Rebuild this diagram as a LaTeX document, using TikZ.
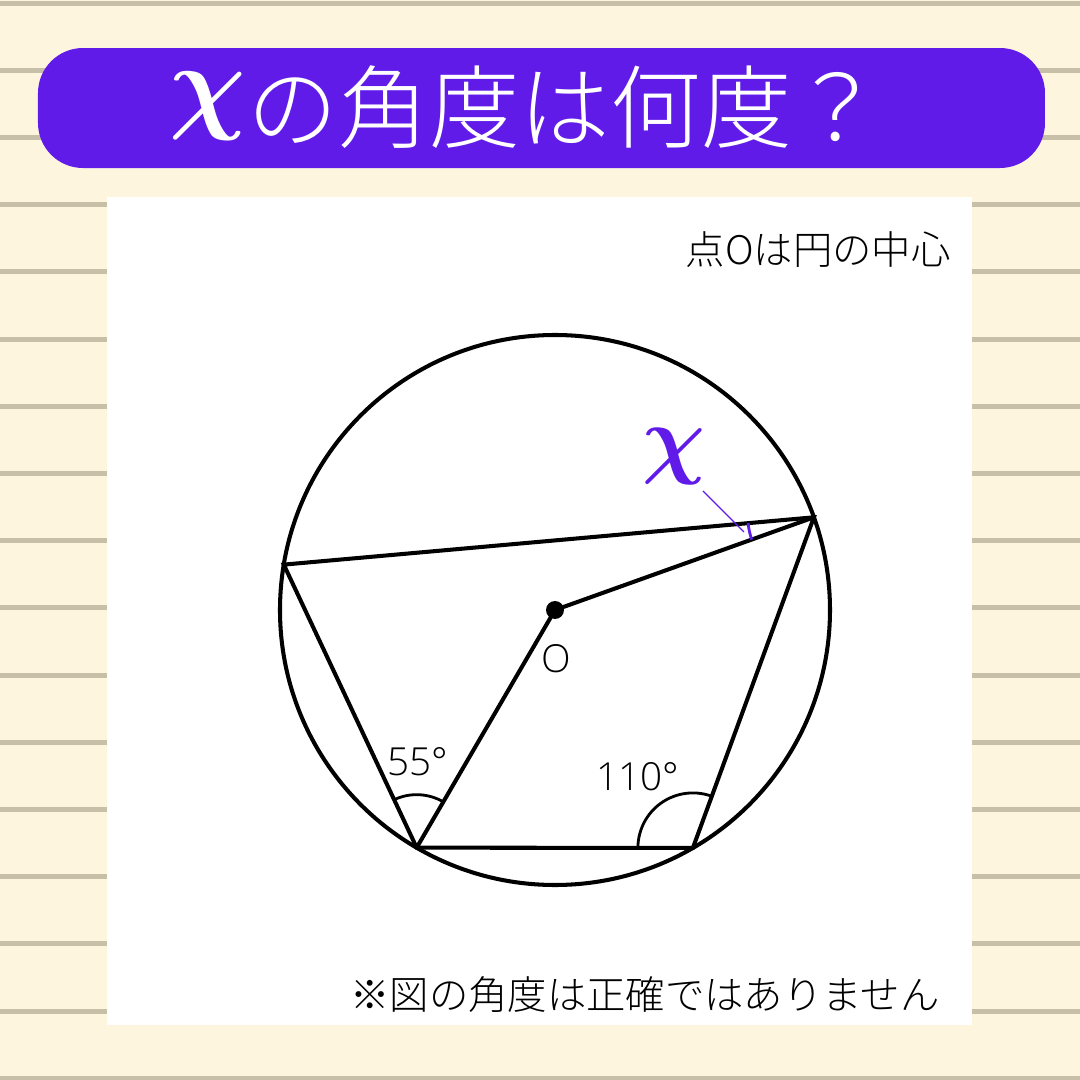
\documentclass[tikz,border=0pt]{standalone}
\usepackage{fontspec}
\setmainfont{Noto Sans CJK JP Light}
\newfontfamily\latinfont{Open Sans Light}
\usepackage{xcolor}
\usetikzlibrary{positioning, calc, angles}
\definecolor{quizpurple}{HTML}{601BE8}
\definecolor{paper}{HTML}{FEF5DF}
\definecolor{ruleline}{HTML}{C8BFA9}

\begin{document}
\begin{tikzpicture}[x=0.1mm, y=0.1mm,
                        figline/.style={line width=1.15pt, black},
                        anglearc/.style={draw, line width=0.8pt, angle radius=5.3mm},
                        smalltext/.style={font=\fontsize{11.2}{13}\selectfont},
                        numlabel/.style={font=\latinfont\fontsize{11}{13}\selectfont},
                        ]
        \useasboundingbox (0,0) rectangle (1080,1080);
        %Background
        \fill[paper] (0,0) rectangle (1080,1080);
        \foreach \k in {0,...,16}
                \fill[ruleline] (0,{1077-67.2*\k-2.5}) rectangle (1080,{1077-67.2*\k+2.5});
        \fill[quizpurple, rounded corners=4.5mm] (38,912) rectangle (1045,1032);
        \fill[white] (107,55) rectangle (972,883);

        %Nodes
        \node[text=white, font=\fontsize{25.8}{27}\selectfont] (title) at (526,973)
                {\raisebox{0.24em}{\scalebox{1.22}{\boldmath$\chi$}}\kern0.02emの角度は何度？};
        \node[smalltext, anchor=east] (center note) at (963,830) {点Oは円の中心};
        \node[smalltext, anchor=east] (foot note) at (952,85) {※図の角度は正確ではありません};

        \coordinate (O) at (555,470);
        \coordinate (A) at ($(O)+(170.5:275)$);
        \coordinate (B) at ($(O)+(19.7:275)$);
        \coordinate (C) at ($(O)+(239.8:275)$);
        \coordinate (D) at ($(O)+(300.1:275)$);

        \node[numlabel] (Olabel) at (556,421) {O};
        \node[numlabel] (angC) at (418,318) {55°};
        \node[numlabel] (angD) at (638,303) {110°};
        \node[text=quizpurple, inner sep=0pt] (xlab) at (674,623) {\scalebox{2.5}{\boldmath$\chi$}};
        \coordinate (xlead) at (703,589);
        \coordinate (xtip) at (744,548);

        %Lines
        \draw[figline] (O) circle (275);
        \draw[figline] (A) -- (B) -- (D) -- (C) -- cycle;
        \draw[figline] (C) -- (O) -- (B);
        \fill (O) circle (9);

        \pic[anglearc] {angle = O--C--A};
        \pic[anglearc, angle radius=5.5mm] {angle = B--D--C};
        \pic[anglearc, draw=quizpurple, angle radius=6.6mm] {angle = A--B--O};
        \draw[quizpurple, line width=0.4pt] (xlead) -- (xtip);
\end{tikzpicture}
\end{document}
